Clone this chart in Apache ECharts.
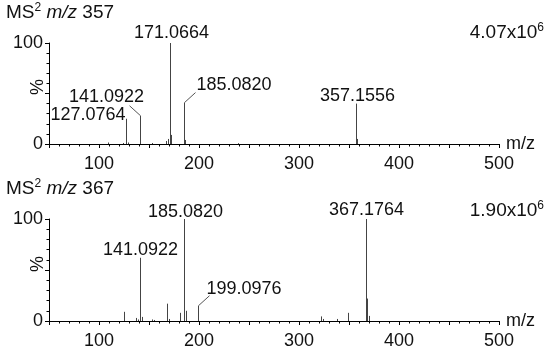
<!DOCTYPE html>
<html>
<head>
<meta charset="utf-8">
<script src="https://cdn.jsdelivr.net/npm/echarts@6/dist/echarts.min.js"></script>
<style>
  html, body { margin: 0; padding: 0; background: #fff; }
  #container { width: 550px; height: 356px; }
</style>
</head>
<body>
<div id="container"></div>
<script>
// peaks of the two spectra, m/z and relative intensity (%)
var ms357Mz  = [109, 124, 127.0764, 129, 141.0922, 153, 167, 169, 171.0664, 172, 185.0820, 186, 239, 357.1556, 358];
var ms357Int = [1.5, 1, 25, 1.5, 28, 1, 3, 5, 100, 9, 41, 4, 0.8, 40, 5];
var ms367Mz  = [124.5, 137, 139, 141.0922, 143, 153, 155, 167.5, 169.5, 181, 185.0820, 187, 199.0976, 322, 324, 338, 349, 367.1764, 368, 370];
var ms367Int = [9, 3, 1.5, 62, 4, 1.5, 1, 17, 2, 8, 100, 10, 15, 4.5, 2, 2, 8, 100, 22, 5];

var labels357 = ['127.0764', '141.0922', '171.0664', '185.0820', '357.1556'];
var labels367 = ['141.0922', '185.0820', '199.0976', '367.1764'];

var xTicks = [100, 200, 300, 400, 500];
var yTicks = [0, 100];

var titles = ['357', '367'];
var totals = ['4.07', '1.90'];

var font = 'Liberation Sans, Arial, sans-serif';

// where each peak label sits relative to the top of its peak (pixels)
var labelPos = [
  {
    '127.0764': {dx: -1, dy: -4, align: 'right'},
    '141.0922': {dx: -34, dy: -19, align: 'center', leader: [-11, -10]},
    '171.0664': {dx: 1, dy: -10, align: 'center'},
    '185.0820': {dx: 12, dy: -18, align: 'left', leader: [11, -10]},
    '357.1556': {dx: 1, dy: -8, align: 'center'}
  },
  {
    '141.0922': {dx: 0, dy: -8, align: 'center'},
    '185.0820': {dx: 1, dy: -7, align: 'center'},
    '199.0976': {dx: 8, dy: -17, align: 'left', leader: [11, -10]},
    '367.1764': {dx: 0, dy: -9, align: 'center'}
  }
];

var dom = document.getElementById("container");
var myChart = echarts.init(dom);

function peakRenderer(labels, pos) {
  return function (params, api) {
    var mz = api.value(0);
    var top = api.coord([mz, api.value(1)]);
    var base = api.coord([mz, 0]);
    var x = Math.round(top[0]) + 0.5;
    var kids = [{
      type: 'line',
      shape: {x1: x, y1: base[1], x2: x, y2: top[1]},
      style: {stroke: '#444', lineWidth: 1}
    }];
    var lab = null;
    for (var i = 0; i < labels.length; i++) {
      if (Math.abs(parseFloat(labels[i]) - mz) < 0.001) lab = labels[i];
    }
    if (lab) {
      var p = pos[lab];
      if (p.leader) {
        kids.push({
          type: 'line',
          shape: {x1: x, y1: top[1], x2: x + p.leader[0], y2: top[1] + p.leader[1]},
          style: {stroke: '#555', lineWidth: 1}
        });
      }
      kids.push({
        type: 'text',
        x: x + p.dx,
        y: top[1] + p.dy,
        style: {
          text: lab, fill: '#111', font: '18px ' + font,
          align: p.align, verticalAlign: 'middle'
        }
      });
    }
    return {type: 'group', children: kids};
  };
}

function xAxisFor(i) {
  return {
    type: 'value', gridIndex: i, min: 50, max: 500, interval: 50,
    name: 'm/z', nameLocation: 'end', nameGap: 7,
    nameTextStyle: {fontSize: 18, color: '#111', fontFamily: font, padding: [8, 0, 0, 0]},
    axisLine: {lineStyle: {color: '#000', width: 1}},
    axisTick: {length: 4, lineStyle: {color: '#000'}},
    minorTick: {show: true, splitNumber: 5, length: 2.5, lineStyle: {color: '#000'}},
    splitLine: {show: false},
    axisLabel: {
      margin: 11, fontSize: 18, color: '#111', fontFamily: font,
      formatter: function (v) { return xTicks.indexOf(v) >= 0 ? String(v) : ''; }
    }
  };
}

function yAxisFor(i) {
  return {
    type: 'value', gridIndex: i, min: 0, max: 100, interval: 50,
    axisLine: {show: true, lineStyle: {color: '#000', width: 1}},
    axisTick: {show: true, length: 4, lineStyle: {color: '#000'}},
    minorTick: {show: true, splitNumber: 5, length: 2.5, lineStyle: {color: '#000'}},
    splitLine: {show: false},
    axisLabel: {
      margin: 6, fontSize: 18, color: '#111', fontFamily: font,
      formatter: function (v) { return yTicks.indexOf(v) >= 0 ? String(v) : ''; }
    }
  };
}

function pairs(a, b) {
  var out = [];
  for (var i = 0; i < a.length; i++) out.push([a[i], b[i]]);
  return out;
}

var titleRich = {
  n: {fontSize: 19, fontFamily: font, fill: '#111'},
  s: {fontSize: 12, fontFamily: font, fill: '#111', padding: [0, 0, 9, 0]},
  i: {fontSize: 19, fontFamily: font, fill: '#111', fontStyle: 'italic'}
};

var graphics = [];
var titleY = [13, 189];
var totalY = [33, 211];
var pctY = [87, 264];
for (var g = 0; g < 2; g++) {
  graphics.push({
    type: 'text', left: 6, top: titleY[g] - 11,
    style: {text: '{n|MS}{s|2}{n| }{i|m/z}{n| ' + titles[g] + '}', rich: titleRich}
  });
  graphics.push({
    type: 'text', right: 6, top: totalY[g] - 11,
    style: {text: '{n|' + totals[g] + 'x10}{s|6}', rich: titleRich}
  });
  graphics.push({
    type: 'text', x: 38, y: pctY[g], rotation: Math.PI / 2,
    style: {text: '%', font: '18px ' + font, fill: '#111', align: 'center', verticalAlign: 'middle'}
  });
}

option = {
  animation: false,
  backgroundColor: '#fff',
  grid: [
    {left: 49, top: 43, width: 450, height: 101, containLabel: false, outerBoundsMode: 'none'},
    {left: 49, top: 219, width: 450, height: 102, containLabel: false, outerBoundsMode: 'none'}
  ],
  xAxis: [xAxisFor(0), xAxisFor(1)],
  yAxis: [yAxisFor(0), yAxisFor(1)],
  graphic: graphics,
  series: [
    {
      type: 'custom', xAxisIndex: 0, yAxisIndex: 0, clip: false,
      renderItem: peakRenderer(labels357, labelPos[0]),
      data: pairs(ms357Mz, ms357Int)
    },
    {
      type: 'custom', xAxisIndex: 1, yAxisIndex: 1, clip: false,
      renderItem: peakRenderer(labels367, labelPos[1]),
      data: pairs(ms367Mz, ms367Int)
    }
  ]
};
myChart.setOption(option, true);
</script>
</body>
</html>
